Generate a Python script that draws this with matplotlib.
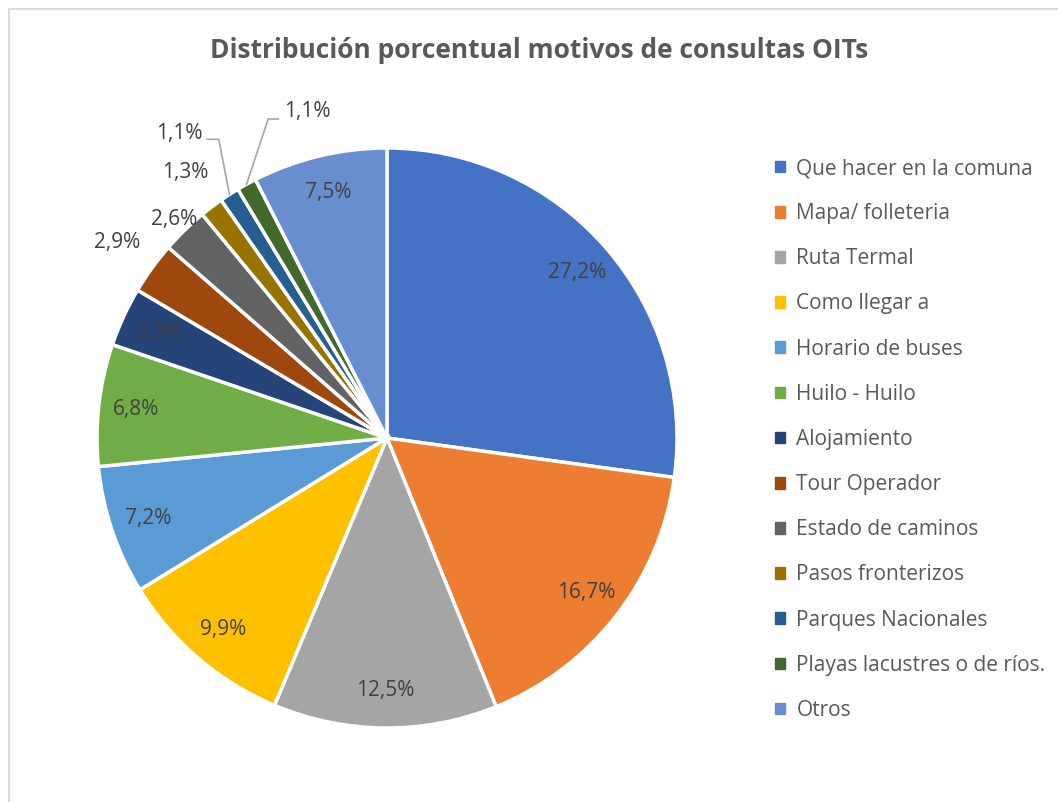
import numpy as np
import matplotlib.pyplot as plt
import matplotlib.patches as mpatches

plt.rcParams['font.family'] = ['Open Sans', 'DejaVu Sans']

# data
categories = ['Que hacer en la comuna', 'Mapa/ folleteria', 'Ruta Termal', 'Como llegar a',
              'Horario de buses', 'Huilo - Huilo', 'Alojamiento', 'Tour Operador',
              'Estado de caminos', 'Pasos fronterizos', 'Parques Nacionales',
              'Playas lacustres o de ríos.', 'Otros']
values = [27.2, 16.7, 12.5, 9.9, 7.2, 6.8, 3.3, 2.9, 2.6, 1.3, 1.1, 1.1, 7.5]
colors = ['#4472C4', '#ED7D31', '#A5A5A5', '#FFC000', '#5B9BD5', '#70AD47', '#264478',
          '#9E480E', '#636363', '#997300', '#255E91', '#43682B', '#698ED0']

fig = plt.figure(figsize=(10.58, 8.02), dpi=100)

# light chart border (Excel chart area)
fig.patches.append(mpatches.Rectangle((8.5 / 1058, -0.1), 1.2, (802 - 8.5) / 802 + 0.1,
                                      transform=fig.transFigure, fill=False,
                                      edgecolor='#D9D9D9', linewidth=1.5))

# pie centre ~ (387, 438) px, radius ~ 290 px
ax = fig.add_axes([97 / 1058, (802 - 438 - 290) / 802, 580 / 1058, 580 / 802])
wedges, _ = ax.pie(values, colors=colors, startangle=90, counterclock=False,
                   wedgeprops=dict(edgecolor='white', linewidth=2.5))
ax.set_xlim(-1, 1)
ax.set_ylim(-1, 1)
ax.set_aspect('equal')
ax.axis('off')

txt = dict(fontsize=15, color='#404040', ha='center', va='center')

# inside labels for larger slices, outside for small ones
outside_r = {7: 1.15, 8: 1.05, 9: 1.15}
for i, w in enumerate(wedges):
    ang = np.deg2rad((w.theta1 + w.theta2) / 2)
    lab = f'{values[i]:.1f}%'.replace('.', ',')
    if values[i] >= 3:
        r = 0.87
    elif i in outside_r:
        r = outside_r[i]
    else:
        continue
    ax.text(r * np.cos(ang), r * np.sin(ang), lab, **txt)

# the two 1,1% slices get leader lines
leaders = {10: ((-0.58, 1.03), (-0.62, 1.03), (-0.715, 1.05)),
           11: ((-0.41, 1.10), (-0.375, 1.10), (-0.275, 1.125))}
for i, (knee, end, tpos) in leaders.items():
    w = wedges[i]
    ang = np.deg2rad((w.theta1 + w.theta2) / 2)
    p = (np.cos(ang), np.sin(ang))
    ax.plot([p[0], knee[0], end[0]], [p[1], knee[1], end[1]], color='#A6A6A6',
            linewidth=1.2, clip_on=False)
    ax.text(tpos[0], tpos[1], f'{values[i]:.1f}%'.replace('.', ','), **txt)

fig.text(539 / 1058, 1 - 50 / 802, 'Distribución porcentual motivos de consultas OITs',
         fontsize=19, fontweight='bold', color='#595959', ha='center', va='center')

handles = [mpatches.Patch(color=c, label=l) for c, l in zip(colors, categories)]
fig.legend(handles=handles, loc='upper left', bbox_to_anchor=(775 / 1058, 1 - 158 / 802),
           frameon=False, fontsize=15, labelcolor='#595959', handlelength=0.48,
           handleheight=0.48, handletextpad=0.55, labelspacing=1.16, borderaxespad=0,
           borderpad=0)

fig.savefig('out.png', dpi=100)
